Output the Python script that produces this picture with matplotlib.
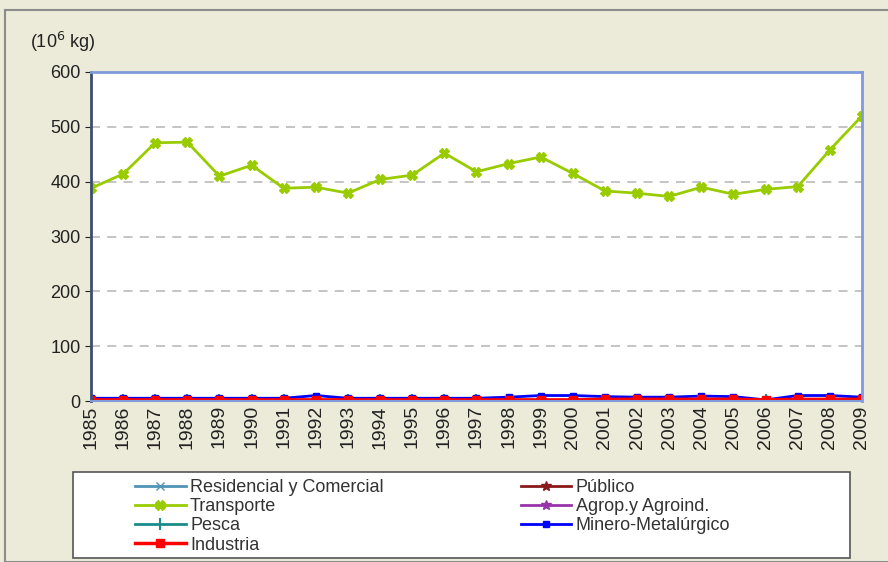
import matplotlib
matplotlib.use("Agg")
import matplotlib.pyplot as plt
from matplotlib.patches import Rectangle

plt.rcParams['font.family'] = ['Liberation Sans', 'DejaVu Sans']

years = list(range(1985, 2010))
transporte = [388, 414, 471, 472, 410, 430, 388, 390, 379, 404, 412, 452, 418,
              433, 445, 415, 383, 379, 373, 390, 377, 386, 391, 458, 520]
minero = [5, 5, 5, 5, 5, 5, 5, 10, 5, 5, 5, 5, 5,
          7, 10, 10, 8, 7, 7, 9, 8, 2, 10, 10, 7]
industria = [2, 2, 2, 2, 2, 2, 2, 2, 2, 2, 2, 2, 2,
             2, 2, 2, 3, 3, 3, 3, 3, 2, 3, 3, 3]
residencial = [1] * 25
publico = [1] * 25
agrop = [1] * 25
pesca = [1] * 25

fig = plt.figure(figsize=(8.88, 5.62), dpi=100)
fig.patch.set_facecolor('#ECEBD9')
fig.patches.append(Rectangle((5/888, 0.0), 1.0, 1 - 10/562, transform=fig.transFigure,
                             fill=False, edgecolor='#8C8C8C', linewidth=1.5, zorder=0))

ax = fig.add_axes([91/888, 1 - 401/562, (862-91)/888, (401-72)/562])
ax.set_facecolor('white')

h_res, = ax.plot(years, residencial, color='#4F94B8', marker='x', ms=6, lw=2, label='Residencial y Comercial')
h_pub, = ax.plot(years, publico, color='#8B1A1A', marker='*', ms=7, lw=2, label='Público')
h_agr, = ax.plot(years, agrop, color='#9933AA', marker='*', ms=7, lw=2, label='Agrop.y Agroind.')
h_pes, = ax.plot(years, pesca, color='#1A8C8C', marker='|', ms=8, mew=1.5, lw=2, label='Pesca')
h_min, = ax.plot(years, minero, color='#0000FF', marker='s', ms=5, lw=2, label='Minero-Metalúrgico')
h_ind, = ax.plot(years, industria, color='#FF0000', marker='s', ms=6, lw=2.5, label='Industria')
h_tra, = ax.plot(years, transporte, color='#99CC00', marker='X', ms=7, lw=2, label='Transporte')

ax.set_xlim(1985, 2009)
ax.set_ylim(0, 600)
ax.set_yticks(range(0, 601, 100))
ax.set_xticks(years)
ax.set_xticklabels([str(y) for y in years], rotation=90, fontsize=14, color='#222222')
ax.tick_params(axis='y', labelsize=13, colors='#222222', length=4, direction='out')
ax.tick_params(axis='x', length=0, pad=3)
for v in range(100, 600, 100):
    ax.axhline(v, color='#BFBFBF', lw=1.3, ls=(0, (5, 4)), zorder=0)

for s in ['top', 'right']:
    ax.spines[s].set_color('#7F9BDB')
    ax.spines[s].set_linewidth(2)
ax.spines['left'].set_color('#3C4E70')
ax.spines['left'].set_linewidth(2)
ax.spines['bottom'].set_color('#7F9BDB')
ax.spines['bottom'].set_linewidth(1.5)

fig.text(30/888, 1 - 42/562, '(10$^6$ kg)', fontsize=13, va='center', ha='left', color='#222222')

# legend frame
fig.patches.append(Rectangle((73/888, 1 - 558/562), (850-73)/888, (558-472)/562,
                             transform=fig.transFigure, facecolor='white', edgecolor='#555555',
                             linewidth=1.2, zorder=1))
handles = [h_res, h_tra, h_pes, h_ind, h_pub, h_agr, h_min]
leg = fig.legend(handles=handles, labels=[h.get_label() for h in handles], ncol=2,
                 loc='upper left', bbox_to_anchor=(135/888, 1 - 479/562),
                 frameon=False, fontsize=13, labelspacing=0.12, handlelength=2.8,
                 handletextpad=0.25, columnspacing=7.6, borderpad=0, borderaxespad=0)
leg.set_zorder(3)
for t in leg.get_texts():
    t.set_color('#333333')

fig.savefig('out.png', dpi=100, facecolor=fig.get_facecolor())
